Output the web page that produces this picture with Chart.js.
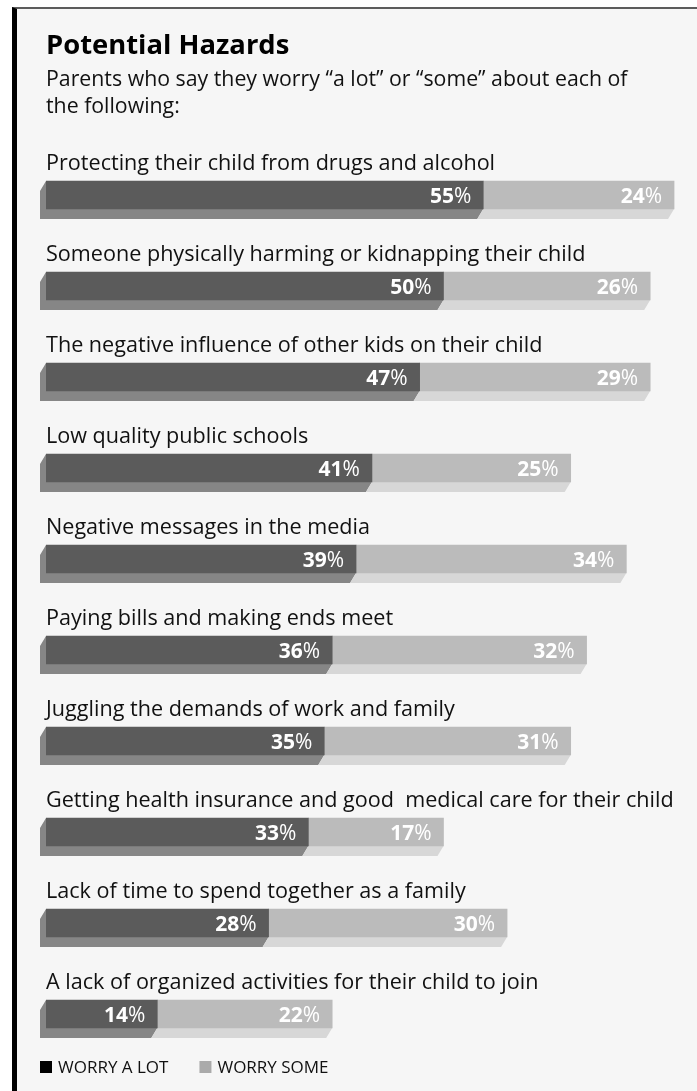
<!DOCTYPE html>
<html>
<head>
<meta charset="utf-8">
<script src="https://cdn.jsdelivr.net/npm/chart.js@4"></script>
<style>
  html, body { margin: 0; padding: 0; background: #fff; }
  #frame {
    position: absolute; left: 12px; top: 7px; right: 0; bottom: 0;
    width: 680px; height: 1082px;
    border-left: 5px solid #000; border-top: 2px solid #5c5c5c;
    background: #f6f6f6;
  }
  #hazards { position: absolute; left: 0; top: 0; }
</style>
</head>
<body>
<div id="frame"></div>
<canvas id="hazards" width="697" height="1091"></canvas>
<script>
const categories = [
  "Protecting their child from drugs and alcohol",
  "Someone physically harming or kidnapping their child",
  "The negative influence of other kids on their child",
  "Low quality public schools",
  "Negative messages in the media",
  "Paying bills and making ends meet",
  "Juggling the demands of work and family",
  "Getting health insurance and good  medical care for their child",
  "Lack of time to spend together as a family",
  "A lack of organized activities for their child to join",
];
const worryALot = [55, 50, 47, 41, 39, 36, 35, 33, 28, 14];
const worrySome = [24, 26, 29, 25, 34, 32, 31, 17, 30, 22];
const seriesNames = ["WORRY A LOT", "WORRY SOME"];

const FONT = "'Open Sans', 'Noto Sans', sans-serif";
const frontColors = ["#5b5b5b", "#bbbbbb"];
const shadeColors = ["#868686", "#d7d7d7"];
const swatchColors = ["#000000", "#aaaaaa"];
const DEPTH_X = 6;
const DEPTH_Y = 10;

// extruded bottom/left faces behind each bar segment
const barDepth = {
  id: "barDepth",
  beforeDatasetsDraw(chart) {
    const ctx = chart.ctx;
    ctx.save();
    chart.data.datasets.forEach((ds, di) => {
      chart.getDatasetMeta(di).data.forEach((bar) => {
        const { x, y, base, height } = bar.getProps(["x", "y", "base", "height"], true);
        const top = y - height / 2, bot = y + height / 2;
        const left = Math.min(x, base), right = Math.max(x, base);
        ctx.fillStyle = shadeColors[di];
        ctx.beginPath();
        if (di === 0) {
          ctx.moveTo(left, top);
          ctx.lineTo(left - DEPTH_X, top + DEPTH_Y);
        } else {
          ctx.moveTo(left, bot);
        }
        ctx.lineTo(left - DEPTH_X, bot + DEPTH_Y);
        ctx.lineTo(right - DEPTH_X, bot + DEPTH_Y);
        ctx.lineTo(right, bot);
        ctx.lineTo(left, bot);
        ctx.closePath();
        ctx.fill();
      });
    });
    ctx.restore();
  },
};

// category captions above bars + value labels inside segments
const barText = {
  id: "barText",
  afterDatasetsDraw(chart) {
    const ctx = chart.ctx;
    const left = chart.chartArea.left;
    ctx.save();
    ctx.textBaseline = "alphabetic";
    const meta0 = chart.getDatasetMeta(0);
    meta0.data.forEach((bar, i) => {
      const top = bar.y - bar.height / 2;
      ctx.fillStyle = "#111";
      ctx.font = "21.6px " + FONT;
      ctx.textAlign = "left";
      ctx.fillText(chart.data.labels[i], left, top - 11);
    });
    chart.data.datasets.forEach((ds, di) => {
      chart.getDatasetMeta(di).data.forEach((bar, i) => {
        const end = Math.max(bar.x, bar.base) - 12;
        const baseline = bar.y - bar.height / 2 + 22;
        ctx.fillStyle = "#fff";
        ctx.textAlign = "right";
        ctx.font = "21px " + FONT;
        const pw = ctx.measureText("%").width;
        ctx.fillText("%", end, baseline);
        ctx.font = "bold 21px " + FONT;
        ctx.fillText(String(ds.data[i]), end - pw, baseline);
      });
    });
    ctx.restore();
  },
};

// legend row at the bottom
const legendRow = {
  id: "legendRow",
  afterDraw(chart) {
    const ctx = chart.ctx;
    ctx.save();
    ctx.font = "17px " + FONT;
    ctx.textBaseline = "alphabetic";
    ctx.textAlign = "left";
    let x = 40;
    const y = 1061;
    seriesNames.forEach((name, i) => {
      ctx.fillStyle = swatchColors[i];
      ctx.fillRect(x, y, 12, 12);
      ctx.fillStyle = "#111";
      ctx.fillText(name, x + 18, y + 12);
      x += 18 + ctx.measureText(name).width + 31;
    });
    ctx.restore();
  },
};

new Chart(document.getElementById("hazards"), {
  type: "bar",
  data: {
    labels: categories,
    datasets: [
      { label: seriesNames[0], data: worryALot, backgroundColor: frontColors[0] },
      { label: seriesNames[1], data: worrySome, backgroundColor: frontColors[1] },
    ],
  },
  options: {
    indexAxis: "y",
    responsive: false,
    animation: false,
    devicePixelRatio: 1,
    layout: { padding: { left: 46, right: 15, top: 0, bottom: 31.5 } },
    datasets: { bar: { barThickness: 28, borderWidth: 0 } },
    scales: {
      x: { stacked: true, min: 0, max: 80, display: false },
      y: { stacked: true, display: false },
    },
    plugins: {
      legend: { display: false },
      tooltip: { enabled: false },
      title: {
        display: true,
        text: "Potential Hazards",
        align: "start",
        color: "#000",
        font: { family: FONT, size: 27.4, weight: "bold", lineHeight: 30 / 27.4 },
        padding: { top: 31, bottom: 0 },
      },
      subtitle: {
        display: true,
        text: [
          "Parents who say they worry \u201ca lot\u201d or \u201csome\u201d about each of",
          "the following:",
        ],
        align: "start",
        color: "#111",
        font: { family: FONT, size: 21.3, lineHeight: 27 / 21.3 },
        padding: { top: 5.4, bottom: 29.1 },
      },
    },
  },
  plugins: [barDepth, barText, legendRow],
});
</script>
</body>
</html>
